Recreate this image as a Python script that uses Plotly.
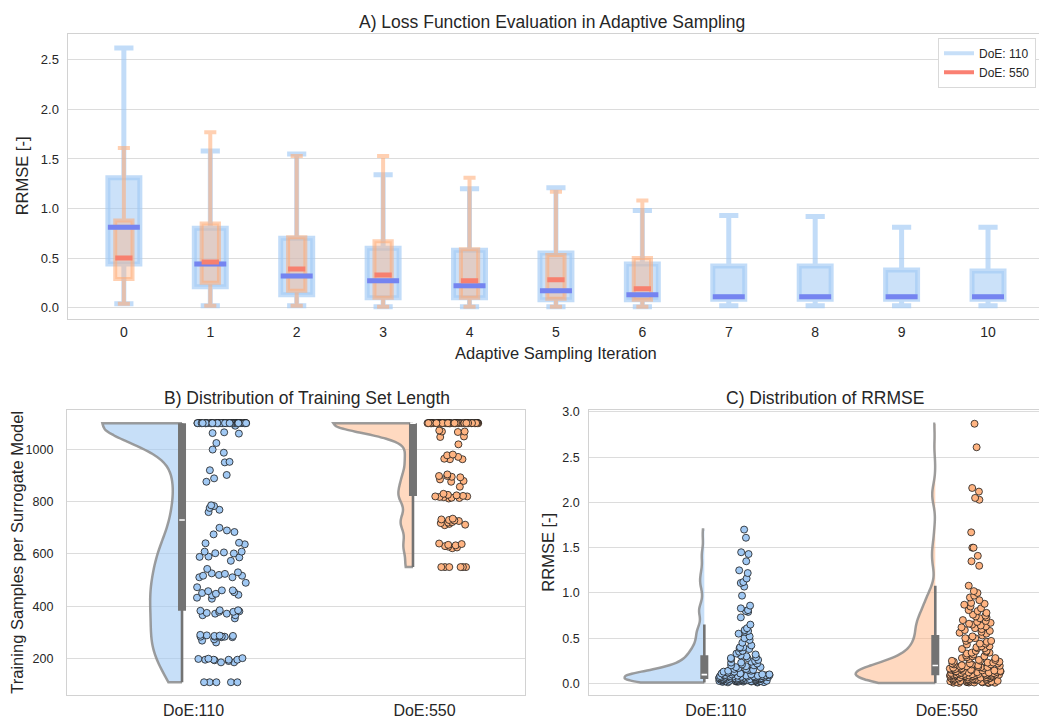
import numpy as np
import plotly.graph_objects as go

# ---------------- Panel A: RRMSE box statistics per adaptive iteration ----------------
iterations = [0, 1, 2, 3, 4, 5, 6, 7, 8, 9, 10]
doe110_lo = [0.04, 0.02, 0.02, 0.01, 0.01, 0.01, 0.01, 0.02, 0.02, 0.02, 0.02]
doe110_q1 = [0.44, 0.21, 0.13, 0.10, 0.10, 0.08, 0.08, 0.085, 0.085, 0.085, 0.085]
doe110_med = [0.81, 0.44, 0.32, 0.27, 0.22, 0.17, 0.13, 0.11, 0.11, 0.11, 0.11]
doe110_q3 = [1.31, 0.80, 0.70, 0.60, 0.58, 0.55, 0.44, 0.42, 0.42, 0.38, 0.37]
doe110_hi = [2.62, 1.58, 1.55, 1.34, 1.20, 1.21, 0.98, 0.93, 0.92, 0.81, 0.81]

iterations_550 = [0, 1, 2, 3, 4, 5, 6]
doe550_lo = [0.04, 0.02, 0.02, 0.01, 0.01, 0.01, 0.01]
doe550_q1 = [0.29, 0.25, 0.17, 0.10, 0.10, 0.09, 0.08]
doe550_med = [0.50, 0.46, 0.39, 0.33, 0.27, 0.28, 0.19]
doe550_q3 = [0.88, 0.85, 0.71, 0.67, 0.59, 0.53, 0.50]
doe550_hi = [1.61, 1.77, 1.53, 1.53, 1.31, 1.17, 1.08]

# ---------------- Panel B: training samples per surrogate model ----------------
train_110 = [1100] * 61 + [
    1090, 1065, 1062, 1060, 1024, 999, 987, 952, 950, 920, 902, 889, 876,
    786, 783, 776, 769, 760,
    700, 690, 684, 675,
    643, 641, 637, 609, 609, 606, 603, 602, 590, 589, 587, 574,
    543, 530, 526, 524, 520, 517, 517, 511, 511,
    490, 473, 461, 461, 458, 454, 451, 448, 444, 442, 433, 429,
    385, 385, 383, 381, 379, 379, 375, 372, 372, 366, 366, 354,
    291, 289, 288, 287, 287, 285, 284, 284, 284, 282, 282, 274, 269, 262,
    202, 200, 199, 196, 196, 196, 196, 194, 191, 186, 186,
    110, 110, 110, 110, 110,
]
train_550 = [1100] * 70 + [
    1072, 1068, 1068, 1066, 1049, 1047, 1019, 980, 977, 971, 964, 962, 962,
    904, 898, 898, 895, 893, 885, 879, 876, 857,
    830, 826, 824, 822, 820, 820, 818, 817, 815, 814, 812,
    735, 732, 730, 728, 726, 722, 720, 718, 715, 712, 710,
    640, 638, 635, 633, 630, 628, 625, 622,
    550, 550, 550, 550, 550, 550,
]

# ---------------- Panel C: RRMSE of the surrogate models ----------------
rrmse_110 = [
    1.70, 1.61, 1.45, 1.43, 1.35, 1.25, 1.22, 1.16, 1.12, 1.11, 1.07, 0.97, 0.86, 0.83, 0.81, 0.80, 0.79, 0.73,
    0.65, 0.61, 0.59, 0.58, 0.57, 0.55, 0.52, 0.50, 0.48, 0.45, 0.42, 0.40, 0.40, 0.39, 0.38, 0.36, 0.35, 0.33, 0.32,
    0.31, 0.30, 0.29, 0.28, 0.28, 0.27, 0.26, 0.25, 0.24, 0.23, 0.23, 0.22, 0.21, 0.20, 0.20, 0.19, 0.18, 0.18,
    0.17, 0.16, 0.16, 0.15, 0.15, 0.14, 0.14, 0.13, 0.13, 0.12, 0.12, 0.12, 0.11, 0.11, 0.11, 0.10, 0.10, 0.10, 0.10,
    0.094, 0.092, 0.090, 0.089, 0.087, 0.086, 0.085,
    0.083, 0.082, 0.081, 0.080, 0.079, 0.078, 0.077, 0.076,
    0.074, 0.073, 0.072, 0.071, 0.070, 0.069, 0.068, 0.066,
    0.064, 0.063, 0.062, 0.061, 0.060, 0.059, 0.058, 0.057, 0.056,
    0.054, 0.053, 0.052, 0.051, 0.050, 0.050, 0.049, 0.048, 0.047, 0.046,
    0.044, 0.043, 0.042, 0.041, 0.040, 0.040, 0.039, 0.038, 0.037, 0.036,
    0.034, 0.033, 0.032, 0.032, 0.031, 0.030, 0.029, 0.028, 0.027, 0.026, 0.026,
    0.024, 0.023, 0.022, 0.021, 0.020, 0.019, 0.018, 0.017,
    0.014, 0.012, 0.010,
]
rrmse_550 = [
    2.87, 2.61, 2.16, 2.12, 2.05, 2.03, 1.67, 1.50, 1.50, 1.41, 1.35, 1.30,
    1.08, 1.02, 1.00, 0.97, 0.95, 0.92, 0.89, 0.88, 0.87, 0.85, 0.83, 0.81, 0.80, 0.78, 0.76, 0.75, 0.74, 0.73,
    0.72, 0.70, 0.69, 0.68, 0.67, 0.66, 0.65, 0.64, 0.63, 0.62, 0.61, 0.60, 0.59, 0.58, 0.57, 0.56, 0.55,
    0.53, 0.52, 0.50, 0.50, 0.49, 0.47, 0.47, 0.46, 0.44, 0.44, 0.43, 0.41, 0.41, 0.40, 0.39, 0.39, 0.38, 0.36,
    0.36, 0.35, 0.34, 0.34, 0.33, 0.32, 0.31, 0.30, 0.30, 0.29, 0.28, 0.28, 0.27, 0.26, 0.26, 0.25, 0.25, 0.24,
    0.24, 0.23, 0.23, 0.22, 0.22, 0.22, 0.21, 0.21, 0.21, 0.20, 0.20,
    0.195, 0.19, 0.188, 0.183, 0.18, 0.178, 0.174, 0.17, 0.168, 0.164, 0.16, 0.158, 0.154, 0.152, 0.15, 0.148,
    0.144, 0.142, 0.14, 0.138, 0.134, 0.132, 0.13, 0.128, 0.124, 0.122, 0.12, 0.118, 0.116, 0.114, 0.112, 0.11,
    0.108, 0.106, 0.104, 0.102, 0.10, 0.10, 0.098, 0.097, 0.096, 0.095, 0.094, 0.093, 0.092, 0.091, 0.09,
    0.088, 0.086, 0.085, 0.083, 0.081, 0.08, 0.078, 0.076, 0.074, 0.072, 0.07, 0.068, 0.066, 0.064, 0.062,
    0.06, 0.058, 0.056, 0.054, 0.052, 0.05, 0.048, 0.046, 0.044, 0.042, 0.04, 0.038, 0.036, 0.034, 0.032,
    0.03, 0.028, 0.026, 0.024, 0.022, 0.02, 0.018, 0.016, 0.014, 0.012, 0.01, 0.01, 0.01, 0.008, 0.008, 0.006, 0.005,
]

groups = ["DoE:110", "DoE:550"]

# ---------------- styling ----------------
W, H = 1039, 723
FONT = "Liberation Sans, Arial, Helvetica, sans-serif"
TXT = "#262626"
GRID = "#dcdcdc"
FRAME = "#d2d2d2"
BLUE = "#a1c9f4"
ORANGE = "#ffb482"
BLUE_FILL = "rgba(161,201,244,0.6)"
ORANGE_FILL = "rgba(255,180,130,0.5)"
BOX_GREY = "#737373"

BOX_W110, BOX_W550 = 0.37, 0.2
GROUP_SHIFT = -0.05       # rain-cloud body sits slightly left of its tick
VIOLIN_W = 0.69

fig = go.Figure()

# ---- Panel A boxes ----
fig.add_trace(go.Box(
    x=iterations, q1=doe110_q1, median=doe110_med, q3=doe110_q3,
    lowerfence=doe110_lo, upperfence=doe110_hi,
    width=BOX_W110, whiskerwidth=0.6, boxpoints=False,
    fillcolor="rgba(161,201,244,0.55)", line=dict(color="rgba(161,201,244,0.65)", width=5),
    showlegend=False, hoverinfo="skip", xaxis="x", yaxis="y"))
fig.add_trace(go.Box(
    x=iterations_550, q1=doe550_q1, median=doe550_med, q3=doe550_q3,
    lowerfence=doe550_lo, upperfence=doe550_hi,
    width=BOX_W550, whiskerwidth=0.7, boxpoints=False,
    fillcolor="rgba(255,175,125,0.4)", line=dict(color="rgba(255,170,115,0.55)", width=4),
    showlegend=False, hoverinfo="skip", xaxis="x", yaxis="y"))


def median_segments(xs, meds, w):
    mx, my = [], []
    for x, m in zip(xs, meds):
        mx += [x - w / 2, x + w / 2, None]
        my += [m, m, None]
    return mx, my


mx, my = median_segments(iterations, doe110_med, BOX_W110)
fig.add_trace(go.Scatter(x=mx, y=my, mode="lines", line=dict(color="#7584f0", width=5),
                         showlegend=False, hoverinfo="skip", xaxis="x", yaxis="y"))
mx, my = median_segments(iterations_550, doe550_med, BOX_W550)
fig.add_trace(go.Scatter(x=mx, y=my, mode="lines", line=dict(color="#f7806f", width=5),
                         showlegend=False, hoverinfo="skip", xaxis="x", yaxis="y"))

# legend entries
fig.add_trace(go.Scatter(x=[None], y=[None], mode="lines", name="DoE: 110",
                         line=dict(color="rgba(161,201,244,0.6)", width=4), xaxis="x", yaxis="y"))
fig.add_trace(go.Scatter(x=[None], y=[None], mode="lines", name="DoE: 550",
                         line=dict(color="#fa8072", width=4), xaxis="x", yaxis="y"))


# ---- Panels B and C: rain-cloud plots ----
def raincloud(vals, pos, fill, dot, xa, ya):
    v = np.asarray(vals, dtype=float)
    bw = 0.2 * np.std(v, ddof=1)
    fig.add_trace(go.Violin(
        y=v, x0=pos, side="negative", width=VIOLIN_W, scalemode="width",
        spanmode="hard", bandwidth=bw, fillcolor=fill,
        line=dict(color="rgba(140,140,140,0.85)", width=2.5),
        points="all", pointpos=0.5, jitter=0.32,
        marker=dict(size=7, color=dot, line=dict(color="#1a1a1a", width=0.8)),
        box=dict(visible=False), meanline=dict(visible=False),
        showlegend=False, hoverinfo="skip", xaxis=xa, yaxis=ya))
    q1, med, q3 = np.percentile(v, [25, 50, 75])
    iqr = q3 - q1
    lo = v[v >= q1 - 1.5 * iqr].min()
    hi = v[v <= q3 + 1.5 * iqr].max()
    fig.add_trace(go.Scatter(x=[pos, pos], y=[lo, hi], mode="lines",
                             line=dict(color=BOX_GREY, width=2.6),
                             showlegend=False, hoverinfo="skip", xaxis=xa, yaxis=ya))
    fig.add_trace(go.Scatter(x=[pos, pos], y=[q1, q3], mode="lines",
                             line=dict(color=BOX_GREY, width=8),
                             showlegend=False, hoverinfo="skip", xaxis=xa, yaxis=ya))
    fig.add_trace(go.Scatter(x=[pos - 0.012, pos + 0.012], y=[med, med], mode="lines",
                             line=dict(color="white", width=1.6),
                             showlegend=False, hoverinfo="skip", xaxis=xa, yaxis=ya))


raincloud(train_110, 0 + GROUP_SHIFT, BLUE_FILL, BLUE, "x2", "y2")
raincloud(train_550, 1 + GROUP_SHIFT, ORANGE_FILL, ORANGE, "x2", "y2")
raincloud(rrmse_110, 0 + GROUP_SHIFT, BLUE_FILL, BLUE, "x3", "y3")
raincloud(rrmse_550, 1 + GROUP_SHIFT, ORANGE_FILL, ORANGE, "x3", "y3")


# ---------------- layout ----------------
def xdom(a, b):
    return [a / W, min(b / W, 1.0)]


def ydom(top, bottom):
    return [1 - bottom / H, 1 - top / H]


def axis_style(size, **kw):
    d = dict(showline=True, linecolor=FRAME, linewidth=1.3, zeroline=False,
             ticks="outside", tickcolor="rgba(0,0,0,0)",
             tickfont=dict(family=FONT, color=TXT, size=size))
    d.update(kw)
    return d


fig.update_layout(
    width=W, height=H, margin=dict(l=0, r=0, t=0, b=0),
    paper_bgcolor="white", plot_bgcolor="white",
    font=dict(family=FONT, color=TXT),
    boxmode="overlay", violinmode="overlay",
    xaxis=axis_style(14, domain=xdom(67.7, W), range=[-0.65, 10.59], tickvals=iterations,
                     showgrid=False, mirror=True, anchor="y", ticklen=1),
    yaxis=axis_style(13, domain=ydom(29.3, 315.7), range=[-0.11, 2.76],
                     tickvals=[0, 0.5, 1.0, 1.5, 2.0, 2.5], tickformat=".1f",
                     showgrid=True, gridcolor=GRID, gridwidth=1, anchor="x", ticklen=5),
    xaxis2=axis_style(16, domain=xdom(67, 525), range=[-0.548, 1.435], tickvals=[0, 1],
                      ticktext=groups, showgrid=False, mirror=True, anchor="y2", ticklen=0),
    yaxis2=axis_style(12.5, domain=ydom(408, 695), range=[60.5, 1149.5],
                      tickvals=[200, 400, 600, 800, 1000], showgrid=True, gridcolor=GRID,
                      mirror=True, anchor="x2", ticklen=10),
    xaxis3=axis_style(16, domain=xdom(589.3, W), range=[-0.548, 1.399], tickvals=[0, 1],
                      ticktext=groups, showgrid=False, mirror=True, anchor="y3", ticklen=0),
    yaxis3=axis_style(12.5, domain=ydom(408, 695), range=[-0.13, 3.02],
                      tickvals=[0, 0.5, 1.0, 1.5, 2.0, 2.5, 3.0], tickformat=".1f",
                      showgrid=True, gridcolor=GRID, anchor="x3", ticklen=6),
    legend=dict(x=1036 / W, xanchor="right", y=1 - 33 / H, yanchor="top",
                bgcolor="white", bordercolor="#d9d9d9", borderwidth=1,
                font=dict(family=FONT, size=12, color=TXT), itemwidth=30,
                tracegroupgap=0),
)

annots = [
    ("A) Loss Function Evaluation in Adaptive Sampling", 552, 17, 0, 17.5),
    ("Adaptive Sampling Iteration", 556, 350, 0, 16.5),
    ("RRMSE [-]", 22, 172.5, -90, 16.5),
    ("B) Distribution of Training Set Length", 307, 396, 0, 17.5),
    ("Training Samples per Surrogate Model", 17, 551.5, -90, 16.5),
    ("C) Distribution of RRMSE", 825, 396, 0, 17.5),
    ("RRMSE [-]", 548, 551.5, -90, 16.5),
]
for text, ax_, ay_, ang, size in annots:
    fig.add_annotation(text=text, x=ax_ / W, y=1 - ay_ / H, xref="paper", yref="paper",
                       showarrow=False, textangle=ang, xanchor="center", yanchor="middle",
                       font=dict(family=FONT, size=size, color=TXT))

fig.write_html("out.html")
